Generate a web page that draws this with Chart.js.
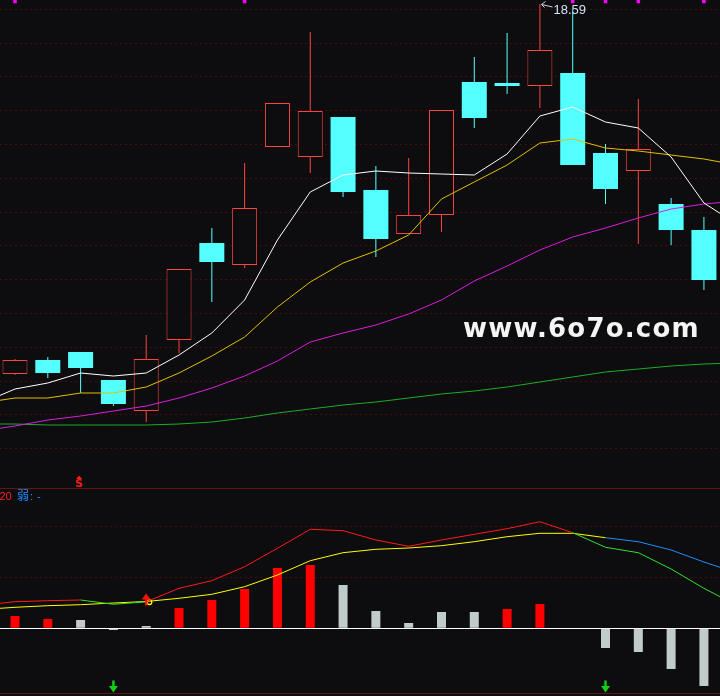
<!DOCTYPE html>
<html><head><meta charset="utf-8">
<script src="https://cdn.jsdelivr.net/npm/chart.js@4.4.1/dist/chart.umd.min.js"></script>
<style>
html,body{margin:0;padding:0;background:#0d0d0f;}
#wrap{position:relative;width:720px;height:696px;overflow:hidden;background:#0d0d0f}
canvas{position:absolute;left:0;display:block}
</style></head><body>
<div id="wrap">
<canvas id="top" width="720" height="488" style="top:0"></canvas>
<canvas id="bot" width="720" height="208" style="top:488px"></canvas>
</div>
<script>
// ---- candle data (22 trading days) ----
const opens  = [14.89,15.03,15.11,14.83,14.52,15.23,16.20,15.98,17.16,17.06,17.46,16.73,16.29,16.48,17.81,17.80,17.77,17.90,17.10,16.92,16.59,16.33];
const highs  = [15.04,15.06,15.11,14.83,15.28,15.94,16.35,17.00,17.60,18.31,17.46,16.97,17.05,17.53,18.06,18.30,18.59,18.53,17.19,17.64,16.65,16.46];
const lows   = [14.88,14.85,14.70,14.57,14.41,15.10,15.61,15.95,17.16,16.90,16.66,16.06,16.29,16.31,17.35,17.69,17.55,16.98,16.59,16.19,16.18,15.73];
const closes = [15.03,14.90,14.95,14.59,15.04,15.94,16.01,16.55,17.60,17.52,16.71,16.24,16.48,17.53,17.45,17.77,18.13,16.98,16.74,17.14,16.33,15.83];
// ---- moving averages: first value = day before the window, last = day after ----
const ma5  = [14.60,14.74,14.80,14.90,14.87,14.90,15.08,15.30,15.63,16.23,16.71,16.88,16.92,16.90,16.89,16.88,17.09,17.47,17.56,17.41,17.35,17.06,16.60,16.39];
const ma10 = [14.60,14.65,14.65,14.70,14.70,14.76,14.90,15.07,15.26,15.56,15.81,16.00,16.12,16.28,16.64,16.81,16.98,17.20,17.24,17.15,17.12,17.08,17.04,16.98];
const ma20 = [14.32,14.37,14.43,14.47,14.52,14.57,14.65,14.75,14.87,15.02,15.21,15.30,15.38,15.49,15.63,15.82,15.97,16.13,16.26,16.35,16.45,16.54,16.59,16.62];
const ma60 = [14.39,14.39,14.38,14.38,14.38,14.38,14.39,14.41,14.45,14.50,14.54,14.58,14.61,14.65,14.69,14.72,14.76,14.81,14.86,14.91,14.94,14.97,14.99,15.00];
// ---- indicator panel ----
const hist     = [0.123,0.093,0.083,-0.017,0.023,0.203,0.283,0.393,0.603,0.633,0.433,0.173,0.053,0.163,0.163,0.193,0.243,0,-0.197,-0.237,-0.407,-0.577];
const histRed  = [1,1,0,0,0,1,1,1,1,1,0,0,0,0,0,1,1,0,0,0,0,0];
const fastLine = [0.231,0.266,0.276,0.283,0.240,0.265,0.400,0.476,0.616,0.800,0.990,0.976,0.883,0.820,0.883,0.940,0.996,1.066,0.956,0.810,0.756,0.593,0.400,0.229];
const slowLine = [0.188,0.210,0.226,0.236,0.253,0.268,0.300,0.340,0.416,0.533,0.676,0.756,0.790,0.803,0.826,0.866,0.916,0.950,0.950,0.906,0.866,0.783,0.663,0.555];
// ---- signals ----
const topMarks   = [0,7,17,18,19,21];
const sellS      = [2];
const buyArrows  = [4];
const sellArrows = [3,18];
const crossPts   = [{x:4.1, y:0.261}];
const headerTexts = ['20','弱',':','-'];

const BG='#0d0d0f', UP='#ff4242', DOWN='#54ffff';
const XMIN=-0.457, XMAX=21.49;
const P_MAX=18.63, P_MIN=13.75;
const L_MAX=1.403, L_MIN=-0.677;
const upperGrid = Array.from({length:14},(_,n)=>P_MAX-(0.093+0.338*n));
const lowerGrid = [L_MAX-0.005, 1.016, 0.513, 0, -0.647];

const isUp = i => closes[i] >= opens[i];
const lineData = arr => arr.map((v,i)=>({x:i-1, y:v}));
const xScaleCfg = () => ({type:'linear', min:XMIN, max:XMAX, offset:false, display:false, bounds:'data',
  afterDataLimits:s=>{ s.min=XMIN; s.max=XMAX; }});
const common = () => ({
  responsive:false, animation:false, devicePixelRatio:1, events:[],
  layout:{padding:0, autoPadding:false},
  plugins:{legend:{display:false}, tooltip:{enabled:false}}
});

const upperDecor = {
  id:'upperDecor',
  afterDraw(chart){
    const {ctx, scales:{x,y}} = chart;
    ctx.save();
    let iMax=0; highs.forEach((h,i)=>{ if(h>highs[iMax]) iMax=i; });
    const hx = Math.round(x.getPixelForValue(iMax))+0.5, hy = Math.round(y.getPixelForValue(highs[iMax]))+0.5;
    ctx.strokeStyle='#c8d4e4'; ctx.lineWidth=1;
    ctx.beginPath();
    ctx.moveTo(hx+12,hy+2.5); ctx.lineTo(hx+1,hy);
    ctx.moveTo(hx+5,hy-3); ctx.lineTo(hx+1,hy); ctx.lineTo(hx+4,hy+3);
    ctx.stroke();
    ctx.fillStyle='#d2e2f6'; ctx.font='13px "Liberation Sans", Arial, sans-serif';
    ctx.textBaseline='alphabetic'; ctx.textAlign='left';
    ctx.fillText(highs[iMax].toFixed(2), hx+13, hy+9);
    // S signals
    sellS.forEach(i=>{
      const sx = x.getPixelForValue(i)-1.5, bot = chart.chartArea.bottom;
      ctx.fillStyle='#ff1a1a';
      ctx.beginPath(); ctx.moveTo(sx,bot-12.5); ctx.lineTo(sx-3,bot-9); ctx.lineTo(sx+3,bot-9); ctx.closePath(); ctx.fill();
      ctx.font='bold 11px "DejaVu Sans", sans-serif'; ctx.textAlign='center';
      ctx.fillText('S', sx, bot-1);
    });
    // watermark
    ctx.textAlign='left';
    ctx.fillStyle='#f4f4f4'; ctx.font='bold 26px "DejaVu Sans", sans-serif';
    try{ ctx.letterSpacing='1.2px'; }catch(e){}
    ctx.fillText('www.6o7o.com', 463, 337);
    ctx.restore();
  }
};

new Chart(document.getElementById('top'), {
  type:'bar',
  data:{datasets:[
    {type:'line', data:lineData(ma5),  borderColor:'#ffffff', borderWidth:1, pointRadius:0, order:0},
    {type:'line', data:lineData(ma10), borderColor:'#e2c000', borderWidth:1, pointRadius:0, order:0},
    {type:'line', data:lineData(ma20), borderColor:'#dc1edc', borderWidth:1, pointRadius:0, order:0},
    {type:'line', data:lineData(ma60), borderColor:'#1aae2a', borderWidth:1, pointRadius:0, order:0},
    {type:'scatter', data:topMarks.map(i=>({x:i, y:P_MAX-0.015})), pointStyle:'rect', pointRadius:2.5,
      backgroundColor:'#ff00ff', borderColor:'#ff00ff', borderWidth:0, order:0},
    {type:'bar', data:opens.map((o,i)=>({x:i, y:[o, closes[i]]})), grouped:false, barThickness:25,
      borderSkipped:false, inflateAmount:0,
      backgroundColor:c=> (c.dataIndex!==undefined && isUp(c.dataIndex)) ? BG : DOWN,
      borderColor:c=> (c.dataIndex!==undefined && isUp(c.dataIndex)) ? UP : DOWN,
      borderWidth:c=> (c.dataIndex!==undefined && isUp(c.dataIndex)) ? 1 : 0, order:1},
    {type:'bar', data:lows.map((l,i)=>({x:i, y:[l, highs[i]]})), grouped:false, barThickness:1,
      borderSkipped:false, inflateAmount:0, borderWidth:0,
      backgroundColor:c=> (c.dataIndex!==undefined && isUp(c.dataIndex)) ? UP : DOWN, order:2}
  ]},
  options:{...common(),
    scales:{
      x:xScaleCfg(),
      y:{min:P_MIN, max:P_MAX, display:true, position:'left',
        ticks:{display:false}, grid:{drawTicks:false, color:'#4a0c0c', lineWidth:1},
        border:{display:false, dash:[2,3]},
        afterBuildTicks:s=>{ s.ticks = upperGrid.map(v=>({value:v})); },
        afterFit:s=>{ s.width=0; }}
    }
  },
  plugins:[upperDecor]
});

const lowerDecor = {
  id:'lowerDecor',
  afterDraw(chart){
    const {ctx, scales:{x,y}} = chart;
    ctx.save();
    ctx.textBaseline='alphabetic'; ctx.textAlign='left';
    ctx.font='11px "Liberation Sans", Arial, sans-serif'; ctx.fillStyle='#ff2020';
    ctx.fillText(headerTexts[0], -0.5, 11.7);
    ctx.fillStyle='#1e8eff';
    ctx.font='12px "Noto Sans CJK SC", sans-serif'; ctx.fillText(headerTexts[1], 17, 12);
    ctx.font='11px "Liberation Sans", Arial, sans-serif';
    ctx.fillText(headerTexts[2], 30, 11.7); ctx.fillText(headerTexts[3], 37, 11.7);
    // buy arrows (red, up)
    buyArrows.forEach(i=>{
      const ax = x.getPixelForValue(i), py = y.getPixelForValue(slowLine[i+1]);
      ctx.fillStyle='#ff1010';
      ctx.fillRect(ax-1.2, py-3, 2.4, 7);
      ctx.beginPath(); ctx.moveTo(ax,py-8); ctx.lineTo(ax-4.5,py-2); ctx.lineTo(ax+4.5,py-2); ctx.closePath(); ctx.fill();
    });
    // sell arrows (green, down)
    sellArrows.forEach(i=>{
      const ax = x.getPixelForValue(i), tip = y.getPixelForValue(lowerGrid[lowerGrid.length-1]) - 0.5;
      ctx.fillStyle='#12d012';
      ctx.fillRect(ax-1.2, tip-12, 2.4, 6.5);
      ctx.beginPath(); ctx.moveTo(ax,tip); ctx.lineTo(ax-4.5,tip-6.5); ctx.lineTo(ax+4.5,tip-6.5); ctx.closePath(); ctx.fill();
    });
    ctx.restore();
  }
};

const isEdge = v => Math.abs(v-lowerGrid[0])<1e-9 || Math.abs(v-lowerGrid[lowerGrid.length-1])<1e-9;
new Chart(document.getElementById('bot'), {
  type:'bar',
  data:{datasets:[
    {type:'line', data:lineData(fastLine), borderWidth:1, pointRadius:0, order:0, borderColor:'#ff1a1a',
      segment:{borderColor:c=> fastLine[c.p1DataIndex] < slowLine[c.p1DataIndex] ? '#33e033' : '#ff1a1a'}},
    {type:'line', data:lineData(slowLine), borderWidth:1, pointRadius:0, order:0, borderColor:'#ffff00',
      segment:{borderColor:c=>{ const a=c.p0DataIndex, b=c.p1DataIndex;
        return (fastLine[a]<slowLine[a] && fastLine[b]<slowLine[b] && slowLine[b]<slowLine[a]) ? '#1e8eff' : '#ffff00'; }}},
    {type:'scatter', data:crossPts, pointStyle:'circle', pointRadius:2.3, borderWidth:1.3,
      borderColor:'#ffff00', backgroundColor:'rgba(0,0,0,0)', order:0},
    {type:'bar', data:hist.map((v,i)=>({x:i, y:v})), grouped:false, barThickness:9, inflateAmount:0, borderWidth:0,
      backgroundColor:c=> (c.dataIndex!==undefined && histRed[c.dataIndex]) ? '#ff0000' : '#c2cbcb', order:1}
  ]},
  options:{...common(),
    scales:{
      x:xScaleCfg(),
      y:{min:L_MIN, max:L_MAX, display:true, position:'left',
        ticks:{display:false},
        grid:{drawTicks:false, lineWidth:1,
          color:c=>{ const v=c.tick?c.tick.value:1; return v===0 ? '#ffffff' : (isEdge(v) ? '#5e1616' : '#4a0c0c'); }},
        border:{display:false, dash:c=>{ const v=c.tick?c.tick.value:1; return (v===0||isEdge(v)) ? [] : [2,3]; }},
        afterBuildTicks:s=>{ s.ticks = lowerGrid.map(v=>({value:v})); },
        afterFit:s=>{ s.width=0; }}
    }
  },
  plugins:[lowerDecor]
});
</script></body></html>
